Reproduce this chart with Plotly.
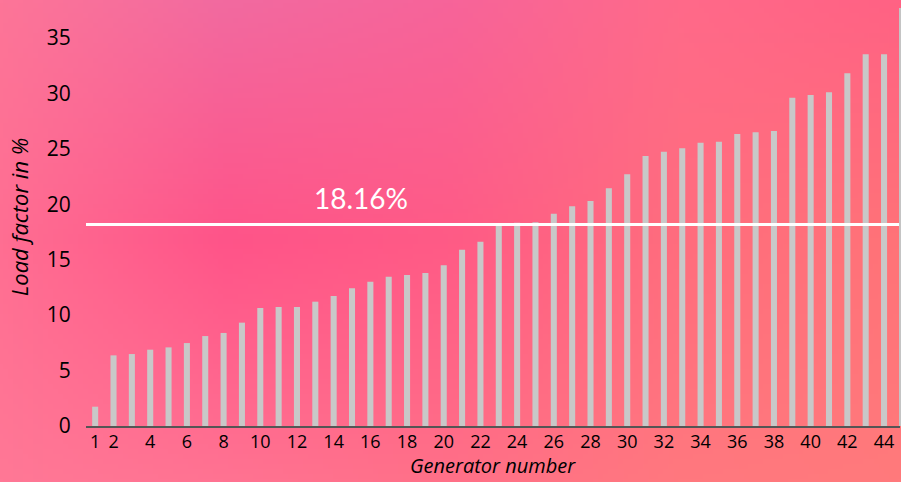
import base64
import struct
import zlib

import numpy as np
import plotly.graph_objects as go

# Load factor per generator (%), sorted ascending
generators = list(range(1, 45))
load_factor = [1.74, 6.37, 6.49, 6.88, 7.09, 7.48, 8.11, 8.39, 9.32, 10.64,
               10.73, 10.73, 11.21, 11.72, 12.41, 13.01, 13.46, 13.62, 13.80, 14.49,
               15.90, 16.62, 18.03, 18.33, 18.37, 19.14, 19.81, 20.29, 21.43, 22.69,
               24.35, 24.73, 25.04, 25.55, 25.64, 26.33, 26.48, 26.60, 29.60, 29.85,
               30.09, 31.80, 33.52, 33.52]
average_load = 18.16
x_tick_vals = [1] + list(range(2, 45, 2))
y_tick_vals = [0, 5, 10, 15, 20, 25, 30, 35]

W, H = 901, 482


def hex_rgb(h):
    h = h.lstrip("#")
    return [int(h[i:i + 2], 16) for i in (0, 2, 4)]


# Soft pink background gradient built from a coarse grid of colour anchors
anchor_rows = [
    ["#fd7598", "#f26aa0", "#f7649a", "#ff6a8a", "#ff6284"],
    ["#ff6e92", "#ff5489", "#ff5b86", "#ff6d7e", "#ff7378"],
    ["#ff7896", "#ff7392", "#ff7088", "#ff787f", "#ff7a7c"],
]
grid = np.array([[hex_rgb(c) for c in row] for row in anchor_rows], dtype=float)
gw, gh = 180, 96
gy = np.linspace(0, grid.shape[0] - 1, gh)
gx = np.linspace(0, grid.shape[1] - 1, gw)
img = np.zeros((gh, gw, 3))
for j, yy in enumerate(gy):
    y0 = min(int(yy), grid.shape[0] - 2)
    ty = yy - y0
    row = grid[y0] * (1 - ty) + grid[y0 + 1] * ty
    for i, xx in enumerate(gx):
        x0 = min(int(xx), grid.shape[1] - 2)
        tx = xx - x0
        img[j, i] = row[x0] * (1 - tx) + row[x0 + 1] * tx
img = np.clip(img, 0, 255).astype(np.uint8)


def png_bytes(arr):
    h, w, _ = arr.shape
    raw = b"".join(b"\x00" + arr[r].tobytes() for r in range(h))

    def chunk(tag, data):
        c = struct.pack(">I", len(data)) + tag + data
        return c + struct.pack(">I", zlib.crc32(tag + data) & 0xFFFFFFFF)

    return (b"\x89PNG\r\n\x1a\n"
            + chunk(b"IHDR", struct.pack(">IIBBBBB", w, h, 8, 2, 0, 0, 0))
            + chunk(b"IDAT", zlib.compress(raw, 9))
            + chunk(b"IEND", b""))


bg_uri = "data:image/png;base64," + base64.b64encode(png_bytes(img)).decode()

# Plot area in pixels
px_left, px_right = 86, 900
px_top, px_bottom = 8, 426
x_dom = [px_left / W, px_right / W]
y_dom = [1 - px_bottom / H, 1 - px_top / H]

fig = go.Figure()
fig.add_trace(go.Bar(
    x=generators,
    y=load_factor,
    marker=dict(color="#c8c8c8", line=dict(width=0)),
    width=0.33,
    hoverinfo="x+y",
))

font_family = "'Open Sans', Lato, sans-serif"

fig.add_shape(type="line", xref="paper", yref="y",
              x0=x_dom[0], x1=1, y0=average_load, y1=average_load,
              line=dict(color="white", width=3), layer="above")
fig.add_shape(type="line", xref="paper", yref="paper",
              x0=x_dom[1], x1=x_dom[1], y0=y_dom[0], y1=y_dom[1],
              line=dict(color="#c4c4c4", width=2))

fig.add_annotation(x=15.5, y=average_load, xref="x", yref="y",
                   text=f"{average_load:.2f}%", showarrow=False,
                   yanchor="bottom", yshift=8,
                   font=dict(family="Lato, sans-serif", size=28, color="white"))

# x-axis title placed as a paper annotation below the tick labels
fig.add_annotation(x=(x_dom[0] + x_dom[1]) / 2, y=0,
                   xref="paper", yref="paper", text="Generator number",
                   showarrow=False, xanchor="center", yanchor="bottom",
                   yshift=1,
                   font=dict(family=font_family, size=20, style="italic",
                             color="black"))

fig.update_layout(
    width=W, height=H,
    margin=dict(l=0, r=0, t=0, b=0),
    paper_bgcolor="#ff6a8c",
    plot_bgcolor="rgba(0,0,0,0)",
    showlegend=False,
    font=dict(family=font_family, color="black"),
    images=[dict(source=bg_uri, xref="paper", yref="paper", x=0, y=1,
                 sizex=1, sizey=1, xanchor="left", yanchor="top",
                 sizing="stretch", layer="below")],
    xaxis=dict(
        domain=x_dom,
        automargin=False,
        range=[0.5, 44.87],
        tickmode="array", tickvals=x_tick_vals,
        ticktext=[str(v) for v in x_tick_vals],
        tickfont=dict(size=18, color="black"),
        ticks="", ticklabelstandoff=-2,
        showgrid=False, zeroline=False,
        showline=True, linecolor="#555555", linewidth=2,
    ),
    yaxis=dict(
        domain=y_dom,
        automargin=False,
        range=[0, (px_bottom - px_top) / 11.09],
        tickmode="array", tickvals=y_tick_vals,
        tickfont=dict(size=21, color="black"),
        ticks="outside", ticklen=10, tickcolor="rgba(0,0,0,0)",
        showgrid=False, zeroline=False, showline=False,
        title=dict(text="Load factor in %", standoff=12,
                   font=dict(size=22, style="italic", color="black")),
    ),
)

fig.write_html("out.html", config={"displayModeBar": False})
